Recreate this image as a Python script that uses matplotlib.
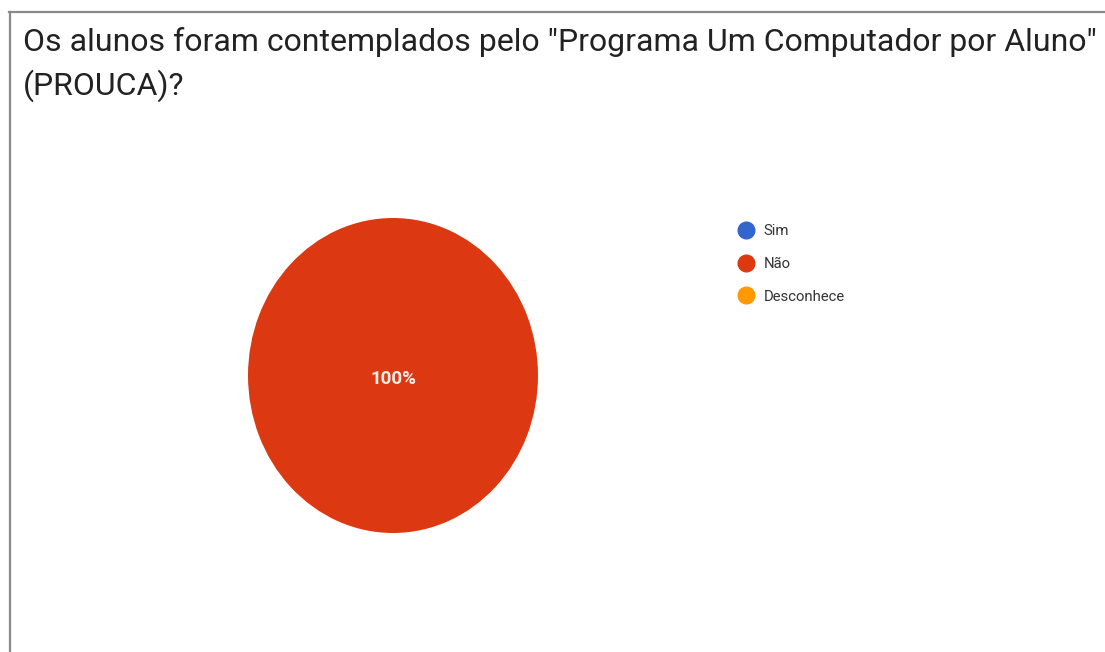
import matplotlib
matplotlib.use("Agg")
import matplotlib.pyplot as plt
from matplotlib.lines import Line2D

categories = ["Sim", "Não", "Desconhece"]
values = [0, 100, 0]
colors = ["#3366cc", "#dc3912", "#ff9900"]
title = 'Os alunos foram contemplados pelo "Programa Um Computador por Aluno"\n(PROUCA)?'

W, H = 1105, 652
fig = plt.figure(figsize=(W / 100, H / 100), dpi=100)
fig.patch.set_facecolor("white")

# frame of the screenshot (top and left edges only)
fig.add_artist(Line2D([9 / W, 1], [1 - 12 / H] * 2, color="#8a8a8a", lw=1.6))
fig.add_artist(Line2D([10 / W] * 2, [0, 1 - 12 / H], color="#8a8a8a", lw=1.6))

fig.text(23 / W, 1 - 27 / H, title, ha="left", va="top", fontsize=23,
         family="Roboto", color="#222222", linespacing=1.5)

# pie is slightly stretched vertically in the original
ax = fig.add_axes([248 / W, 1 - 533 / H, 290 / W, 315 / H])
shown = [(v, c) for v, c in zip(values, colors) if v > 0]
ax.pie([v for v, c in shown], colors=[c for v, c in shown], startangle=90,
       counterclock=False, wedgeprops=dict(linewidth=0))
ax.set_aspect("auto")
ax.set_xlim(-1, 1)
ax.set_ylim(-1, 1)
total = sum(values)
for v in values:
    if v == total:
        ax.text(0, -0.02, "%d%%" % round(100 * v / total), ha="center", va="center",
                color="#fbeee9", fontsize=13.5, family="Roboto", fontweight="semibold")

handles = [Line2D([], [], marker="o", ls="", markersize=12, color=c) for c in colors]
fig.legend(handles, categories, loc="upper left", bbox_to_anchor=(721 / W, 1 - 211 / H),
           frameon=False, prop=dict(family="Roboto", size=10.7), handletextpad=0.45,
           labelspacing=1.25, handlelength=1.5, labelcolor="#333333")

fig.savefig("out.png", dpi=100, facecolor="white")
